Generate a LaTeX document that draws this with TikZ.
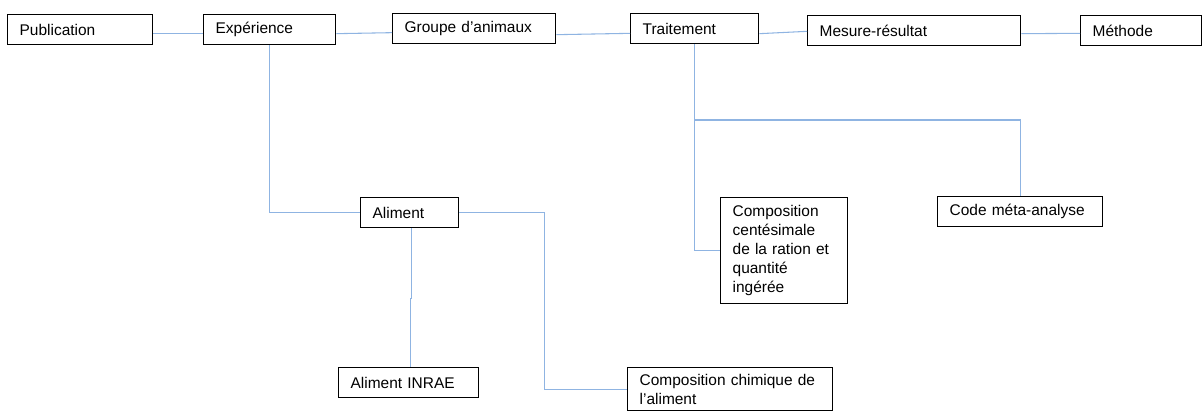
\documentclass[tikz,border=0pt]{standalone}
\usepackage{fontspec}
\setmainfont{Liberation Sans}
\definecolor{linkblue}{RGB}{143,180,226}
\begin{document}
\begin{tikzpicture}[x=0.75pt,y=-0.75pt,
  box/.style={draw=black, line width=1pt, fill=white, anchor=north west,
    inner xsep=9pt, inner ysep=3pt, align=left, minimum height=22.5pt,
    font=\fontsize{11.6}{14.2}\selectfont},
  link/.style={draw=linkblue, line width=0.8pt}]
\useasboundingbox (0,0) rectangle (1203,411);
% top row
\node[box, text width=90.75pt] (pub) at (7,14) {Publication};
\node[box, text width=81pt] (exp) at (203,14) {Expérience};
\node[box, text width=104.25pt] (grp) at (392,13) {Groupe d’animaux};
\node[box, text width=78pt] (trt) at (630,13) {Traitement};
\node[box, text width=141.75pt] (mes) at (807,15) {Mesure-résultat};
\node[box, text width=72.75pt] (met) at (1080,15) {Méthode};
% lower nodes
\node[box, text width=55.5pt] (ali) at (360,197) {Aliment};
\node[box, text width=87pt] (inr) at (338,367) {Aliment INRAE};
\node[box, text width=135.75pt, minimum height=32.25pt] (chem) at (627,367) {Composition chimique de\\l’aliment};
\node[box, text width=77.25pt, minimum height=79.5pt] (cen) at (720,197) {Composition\\centésimale\\de la ration et\\quantité\\ingérée};
\node[box, text width=105.75pt] (code) at (937,196) {Code méta-analyse};
% connectors
\draw[link] ([yshift=-3pt]pub.east) -- ([yshift=-3pt]exp.west);
\draw[link] ([yshift=-3pt]exp.east) -- ([yshift=-3pt]grp.west);
\draw[link] ([yshift=-4.5pt]grp.east) -- ([yshift=-3.5pt]trt.west);
\draw[link] ([yshift=-3.75pt]trt.east) -- ([yshift=-0.5pt]mes.west);
\draw[link] ([yshift=-2.25pt]mes.east) -- ([yshift=-2pt]met.west);
\draw[link] (exp.south) |- (ali.west);
\draw[link] ([xshift=1.5pt]ali.south) -- ++(0,70) -- ++(-1,0) -- ([xshift=1.5pt]inr.north);
\draw[link] (ali.east) -- ++(85,0) |- (chem.west);
\draw[link] (trt.south) |- (cen.west);
\draw[link] (trt.south |- 0,120) -| (code.north);
\end{tikzpicture}
\end{document}
